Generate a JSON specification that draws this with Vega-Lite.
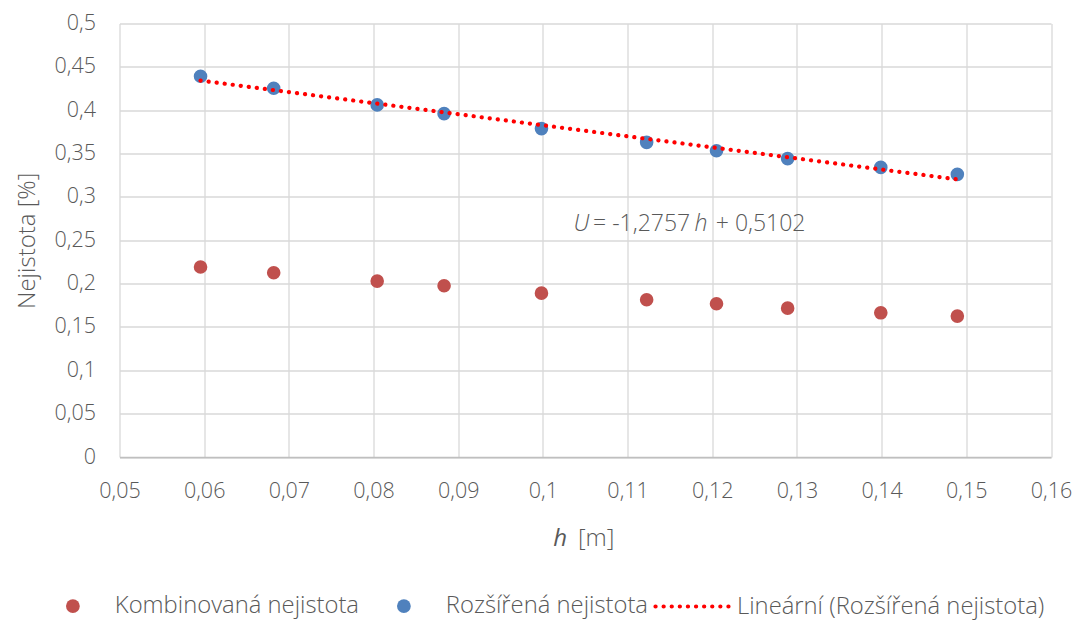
{
  "$schema": "https://vega.github.io/schema/vega-lite/v6.json",
  "width": 931.5,
  "height": 433.5,
  "autosize": "none",
  "padding": {"left": 119.5, "top": 23.5, "right": 30, "bottom": 164},
  "background": "white",
  "config": {
    "locale": {"number": {"decimal": ",", "thousands": " ", "grouping": [3], "currency": ["", " Kč"]}},
    "font": "Open Sans",
    "view": {"stroke": null},
    "axis": {
      "labelFont": "Open Sans", "labelFontWeight": 300, "labelFontSize": 21.5, "labelColor": "#595959",
      "titleFont": "Open Sans", "titleFontWeight": 300, "titleFontSize": 24, "titleColor": "#595959",
      "gridColor": "#d9d9d9", "gridWidth": 1.3, "ticks": false
    },
    "legend": {"labelFont": "Open Sans", "labelFontWeight": 300, "labelFontSize": 23.8, "labelColor": "#595959", "labelLimit": 500, "title": null, "direction": "horizontal"}
  },
  "datasets": {
    "pts": [
      {"series": "Kombinovaná nejistota", "h": 0.05957, "value": 0.2191},
      {"series": "Kombinovaná nejistota", "h": 0.06821, "value": 0.2125},
      {"series": "Kombinovaná nejistota", "h": 0.08043, "value": 0.2029},
      {"series": "Kombinovaná nejistota", "h": 0.08833, "value": 0.1975},
      {"series": "Kombinovaná nejistota", "h": 0.09983, "value": 0.1890},
      {"series": "Kombinovaná nejistota", "h": 0.11225, "value": 0.1813},
      {"series": "Kombinovaná nejistota", "h": 0.12050, "value": 0.1767},
      {"series": "Kombinovaná nejistota", "h": 0.12890, "value": 0.1717},
      {"series": "Kombinovaná nejistota", "h": 0.13990, "value": 0.1663},
      {"series": "Kombinovaná nejistota", "h": 0.14894, "value": 0.1625},
      {"series": "Rozšířená nejistota", "h": 0.05957, "value": 0.4391},
      {"series": "Rozšířená nejistota", "h": 0.06821, "value": 0.4253},
      {"series": "Rozšířená nejistota", "h": 0.08043, "value": 0.4061},
      {"series": "Rozšířená nejistota", "h": 0.08833, "value": 0.3960},
      {"series": "Rozšířená nejistota", "h": 0.09983, "value": 0.3788},
      {"series": "Rozšířená nejistota", "h": 0.11225, "value": 0.3629},
      {"series": "Rozšířená nejistota", "h": 0.12050, "value": 0.3533},
      {"series": "Rozšířená nejistota", "h": 0.12890, "value": 0.3441},
      {"series": "Rozšířená nejistota", "h": 0.13990, "value": 0.3340},
      {"series": "Rozšířená nejistota", "h": 0.14894, "value": 0.3260}
    ],
    "trend": [
      {"series": "Lineární (Rozšířená nejistota)", "h": 0.05957, "value": 0.4342},
      {"series": "Lineární (Rozšířená nejistota)", "h": 0.14894, "value": 0.3202}
    ]
  },
  "layer": [
    {"data": {"name": "pts"}, "mark": {"type": "point", "filled": true, "size": 185, "opacity": 1, "shape": "circle"},
     "encoding": {
      "x": {"field": "h", "type": "quantitative",
        "scale": {"domain": [0.05, 0.16], "nice": false, "zero": false},
        "axis": {"title": null, "values": [0.05,0.06,0.07,0.08,0.09,0.1,0.11,0.12,0.13,0.14,0.15,0.16], "format": ".2~f", "labelPadding": 23, "domainColor": "#bfbfbf", "domainWidth": 1.5, "labelFlush": false}},
      "y": {"field": "value", "type": "quantitative",
        "scale": {"domain": [0, 0.5], "nice": false, "zero": false},
        "axis": {"title": "Nejistota [%]", "values": [0,0.05,0.1,0.15,0.2,0.25,0.3,0.35,0.4,0.45,0.5], "format": ".2~f", "labelPadding": 24, "domain": false, "titlePadding": 15, "labelFlush": false}},
      "color": {"field": "series", "type": "nominal",
        "scale": {"domain": ["Kombinovaná nejistota", "Rozšířená nejistota"], "range": ["#C0504D", "#4F81BD"]},
        "legend": {
          "orient": "none", "legendX": -58.5, "legendY": 570.5,
          "symbolSize": 190, "symbolType": "circle", "symbolStrokeWidth": 0,
          "labelOffset": 30, "columnPadding": 33
        }
      }
     }},
    {"data": {"name": "trend"}, "mark": {"type": "line", "strokeWidth": 4.2, "strokeCap": "round", "color": "#FF0000"},
     "encoding": {
      "x": {"field": "h", "type": "quantitative"},
      "y": {"field": "value", "type": "quantitative"},
      "strokeDash": {"field": "series", "type": "nominal",
        "scale": {"domain": ["Lineární (Rozšířená nejistota)"], "range": [[0.1, 8]]},
        "legend": {
          "orient": "none", "legendX": 533.5, "legendY": 544,
          "symbolType": "stroke", "symbolSize": 5329, "symbolStrokeWidth": 4.2, "symbolStrokeColor": "#FF0000",
          "labelOffset": 6,
          "encode": {"symbols": {"update": {"strokeCap": {"value": "round"}, "stroke": {"value": "#FF0000"}, "opacity": {"value": 1}}}}
        }
      }
     }},
    {"data": {"values": [{}]},
     "mark": {"type": "text", "text": "U", "font": "Open Sans", "fontWeight": 300, "fontStyle": "italic", "align": "left", "baseline": "alphabetic", "fontSize": 23, "dx": 0, "color": "#595959"},
     "encoding": {"x": {"datum": 0.1036, "type": "quantitative"}, "y": {"datum": 0.261, "type": "quantitative"}}},
    {"data": {"values": [{}]},
     "mark": {"type": "text", "text": "= -1,2757", "font": "Open Sans", "fontWeight": 300, "align": "left", "baseline": "alphabetic", "fontSize": 23, "dx": 19.7, "color": "#595959"},
     "encoding": {"x": {"datum": 0.1036, "type": "quantitative"}, "y": {"datum": 0.261, "type": "quantitative"}}},
    {"data": {"values": [{}]},
     "mark": {"type": "text", "text": "h", "font": "Open Sans", "fontWeight": 300, "fontStyle": "italic", "align": "left", "baseline": "alphabetic", "fontSize": 23, "dx": 121, "color": "#595959"},
     "encoding": {"x": {"datum": 0.1036, "type": "quantitative"}, "y": {"datum": 0.261, "type": "quantitative"}}},
    {"data": {"values": [{}]},
     "mark": {"type": "text", "text": "+ 0,5102", "font": "Open Sans", "fontWeight": 300, "align": "left", "baseline": "alphabetic", "fontSize": 23, "dx": 142.4, "color": "#595959"},
     "encoding": {"x": {"datum": 0.1036, "type": "quantitative"}, "y": {"datum": 0.261, "type": "quantitative"}}},
    {"data": {"values": [{}]},
     "mark": {"type": "text", "text": "h", "font": "Open Sans", "fontStyle": "italic", "fontWeight": 400, "align": "left", "baseline": "alphabetic", "fontSize": 24, "dx": 0, "color": "#595959"},
     "encoding": {"x": {"datum": 0.10121, "type": "quantitative"}, "y": {"datum": -0.1028, "type": "quantitative"}}},
    {"data": {"values": [{}]},
     "mark": {"type": "text", "text": "[m]", "font": "Open Sans", "fontWeight": 300, "align": "left", "baseline": "alphabetic", "fontSize": 24, "dx": 24.8, "color": "#595959"},
     "encoding": {"x": {"datum": 0.10121, "type": "quantitative"}, "y": {"datum": -0.1028, "type": "quantitative"}}}
  ]
}
